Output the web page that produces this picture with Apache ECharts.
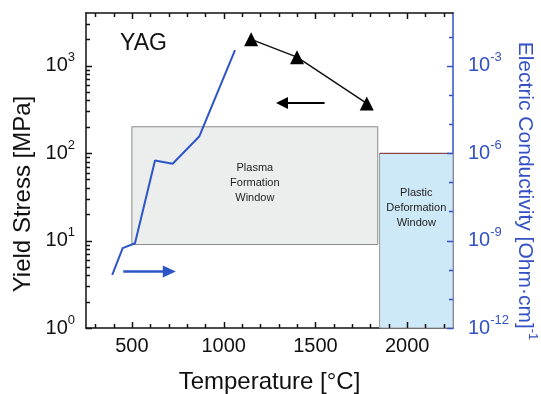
<!DOCTYPE html>
<html>
<head>
<meta charset="utf-8">
<script src="https://cdn.jsdelivr.net/npm/echarts@6/dist/echarts.min.js"></script>
<style>
  html, body { margin: 0; padding: 0; background: #fff; }
  #chart { width: 541px; height: 394px; }
</style>
</head>
<body>
<div id="chart"></div>
<script>
// yield stress [MPa]
const stressTemps = [1150, 1400, 1780]
const stressValues = [2000, 1250, 370]
// electric conductivity [Ohm·cm]^-1
const condTemps = [393, 450, 517, 626, 722, 867, 1062]
const condValues = [6.6e-11, 5.5e-10, 8.1e-10, 5.6e-7, 4.3e-7, 3.7e-6, 3.4e-3]

// ticks
const tempLabels = [500, 1000, 1500, 2000]
const tempMinor = [300, 400, 600, 700, 800, 900, 1100, 1200, 1300, 1400, 1600, 1700, 1800, 1900, 2100, 2200]
const stressLabels = [1, 10, 100, 1000]
const stressMinor = [2, 3, 4, 5, 6, 7, 8, 9, 20, 30, 40, 50, 60, 70, 80, 90,
  200, 300, 400, 500, 600, 700, 800, 900, 2000, 3000]
const condLabels = [1e-12, 1e-9, 1e-6, 1e-3]
const condMinor = [1e-11, 1e-10, 1e-8, 1e-7, 1e-5, 1e-4, 1e-2]

// windows: [tempFrom, tempTo, stressFrom, stressTo]
const plasmaWindow = [500, 1840, 9, 200]
const deformWindow = [1850, 2250, 1, 100]
// arrows: [tempFrom, tempTo, level]
const stressArrow = [1550, 1318, 375]
const condArrow = [453, 704, 8.6e-11]

const FONT = '"Liberation Sans", Arial, sans-serif'
const BLACK = '#111'
const BLUE = '#3350c4'
const LINE_BLUE = '#2d55c8'
const MAJOR = 6
const MINOR = 4

const TEMP_MIN = 250
const TEMP_MAX = 2250

const chart = echarts.init(document.getElementById('chart'))

const powLabel = v => '{b|10}{s|' + Math.round(Math.log10(v)) + '}'
const powRich = color => ({
  b: {fontSize: 20, lineHeight: 30, color: color, fontFamily: FONT},
  s: {fontSize: 13, lineHeight: 14, color: color, fontFamily: FONT, padding: [0, 0, 16, 0]}
})

const xAxes = [
  {
    type: 'value', min: TEMP_MIN, max: TEMP_MAX,
    position: 'bottom',
    name: 'Temperature [°C]',
    nameLocation: 'middle',
    nameGap: 42,
    nameMoveOverlap: false,
    nameTextStyle: {fontSize: 24, color: '#111', fontFamily: FONT},
    splitLine: {show: false},
    axisLine: {show: true, lineStyle: {color: BLACK, width: 1.5}},
    axisTick: {show: false},
    axisLabel: {customValues: tempLabels, margin: 8, fontSize: 20, color: '#111', fontFamily: FONT,
      formatter: v => String(v)}
  },
  {
    type: 'value', min: TEMP_MIN, max: TEMP_MAX,
    position: 'top',
    splitLine: {show: false},
    axisLine: {show: true, lineStyle: {color: BLACK, width: 1.5}},
    axisTick: {show: false},
    axisLabel: {show: false}
  }
]

const yAxes = [
  {
    type: 'log', min: 1, max: 4000,
    position: 'left',
    name: 'Yield Stress [MPa]',
    nameLocation: 'middle',
    nameGap: 51,
    nameMoveOverlap: false,
    nameTextStyle: {fontSize: 24, color: '#111', fontFamily: FONT, padding: [0, 47, 0, 0]},
    splitLine: {show: false},
    axisLine: {show: true, lineStyle: {color: BLACK, width: 1.5}},
    axisTick: {show: false},
    axisLabel: {customValues: stressLabels, margin: 11, formatter: powLabel, rich: powRich('#111')}
  },
  {
    type: 'log', min: 1e-12, max: 6.4e-2,
    position: 'right',
    name: '{m|Electric Conductivity [Ohm·cm]}{s|-1}',
    nameLocation: 'middle',
    nameRotate: -90,
    nameGap: 57,
    nameMoveOverlap: false,
    nameTextStyle: {
      fontSize: 21, color: BLUE, fontFamily: FONT, padding: [0, 0, 0, 41],
      rich: {
        m: {fontSize: 21, lineHeight: 30, color: BLUE, fontFamily: FONT},
        s: {fontSize: 13, lineHeight: 14, color: BLUE, fontFamily: FONT, padding: [0, 0, 16, 0]}
      }
    },
    splitLine: {show: false},
    axisLine: {show: true, lineStyle: {color: BLUE, width: 1.5}},
    axisTick: {show: false},
    axisLabel: {customValues: condLabels, margin: 15, formatter: powLabel, rich: powRich(BLUE)}
  }
]

// 刻度线: custom series, positioned through the axes
const xTickSeries = {
  type: 'custom',
  xAxisIndex: 0,
  yAxisIndex: 0,
  silent: true,
  clip: false,
  z: 6,
  encode: {x: 0, y: 1},
  data: tempLabels.map(v => [v, 1, MAJOR]).concat(tempMinor.map(v => [v, 1, MINOR])),
  renderItem: (params, api) => {
    const cs = params.coordSys
    const x = Math.round(api.coord([api.value(0), api.value(1)])[0]) + 0.5
    const len = api.value(2)
    const bottom = cs.y + cs.height
    const style = {stroke: BLACK, lineWidth: 1.5}
    return {
      type: 'group',
      children: [
        {type: 'line', shape: {x1: x, y1: bottom, x2: x, y2: bottom - len}, style: style},
        {type: 'line', shape: {x1: x, y1: cs.y, x2: x, y2: cs.y + len}, style: style}
      ]
    }
  }
}

const yTickSeries = (yAxisIndex, labels, minor, side, color) => ({
  type: 'custom',
  xAxisIndex: 0,
  yAxisIndex: yAxisIndex,
  silent: true,
  clip: false,
  z: 6,
  encode: {x: 0, y: 1},
  data: labels.map(v => [TEMP_MIN, v, MAJOR]).concat(minor.map(v => [TEMP_MIN, v, MINOR])),
  renderItem: (params, api) => {
    const cs = params.coordSys
    const y = Math.round(api.coord([api.value(0), api.value(1)])[1]) + 0.5
    const len = api.value(2)
    const x0 = side === 'left' ? cs.x : cs.x + cs.width
    const x1 = side === 'left' ? x0 + len : x0 - len
    return {
      type: 'line',
      shape: {x1: x0, y1: y, x2: x1, y2: y},
      style: {stroke: color, lineWidth: 1.5}
    }
  }
})

const windowLabel = {
  show: true,
  color: '#222',
  fontSize: 11,
  lineHeight: 15,
  fontFamily: FONT
}

const options = {
  animation: false,
  textStyle: {fontFamily: FONT},
  title: {
    text: 'YAG',
    left: 115,
    top: 27,
    textStyle: {fontSize: 23, fontWeight: 'normal', color: '#111', fontFamily: FONT}
  },
  grid: {left: 86, right: 88, top: 13, bottom: 66, outerBoundsMode: 'none'},
  xAxis: xAxes,
  yAxis: yAxes,
  series: [
    // 窗口区域
    {
      type: 'line',
      xAxisIndex: 0,
      yAxisIndex: 0,
      data: [],
      silent: true,
      markArea: {
        silent: true,
        data: [
          [
            {
              coord: [plasmaWindow[0], plasmaWindow[2]],
              itemStyle: {color: '#eceeee', borderColor: '#8a8a8a', borderWidth: 1},
              label: Object.assign({}, windowLabel, {position: 'inside', offset: [0, -3]}),
              name: 'Plasma\nFormation\nWindow'
            },
            {coord: [plasmaWindow[1], plasmaWindow[3]]}
          ],
          [
            {
              coord: [deformWindow[0], deformWindow[2]],
              itemStyle: {color: '#cde8f6', borderColor: '#999', borderWidth: 1},
              label: Object.assign({}, windowLabel, {position: 'insideTop', distance: 33}),
              name: 'Plastic\nDeformation\nWindow'
            },
            {coord: [deformWindow[1], deformWindow[3]]}
          ]
        ]
      },
      markLine: {
        silent: true,
        symbol: ['none', 'none'],
        label: {show: false},
        lineStyle: {color: '#9a4040', width: 1, type: 'solid'},
        data: [
          [{coord: [deformWindow[0], deformWindow[3]]}, {coord: [deformWindow[1], deformWindow[3]]}]
        ]
      }
    },
    // 屈服强度
    {
      name: 'Yield Stress',
      type: 'line',
      xAxisIndex: 0,
      yAxisIndex: 0,
      data: stressTemps.map((t, i) => [t, stressValues[i]]),
      symbol: 'triangle',
      symbolSize: 14,
      itemStyle: {color: '#000'},
      lineStyle: {color: '#111', width: 1.5},
      z: 5,
      markLine: {
        silent: true,
        symbol: ['none', 'triangle'],
        symbolSize: [12, 12],
        label: {show: false},
        lineStyle: {color: '#000', width: 2, type: 'solid'},
        data: [
          [{coord: [stressArrow[0], stressArrow[2]]}, {coord: [stressArrow[1], stressArrow[2]]}]
        ]
      }
    },
    // 电导率
    {
      name: 'Electric Conductivity',
      type: 'line',
      xAxisIndex: 0,
      yAxisIndex: 1,
      data: condTemps.map((t, i) => [t, condValues[i]]),
      showSymbol: false,
      lineStyle: {color: LINE_BLUE, width: 2},
      z: 4,
      markLine: {
        silent: true,
        symbol: ['none', 'triangle'],
        symbolSize: [12, 13],
        label: {show: false},
        lineStyle: {color: LINE_BLUE, width: 2.5, type: 'solid'},
        data: [
          [{coord: [condArrow[0], condArrow[2]]}, {coord: [condArrow[1], condArrow[2]]}]
        ]
      }
    },
    xTickSeries,
    yTickSeries(0, stressLabels, stressMinor, 'left', BLACK),
    yTickSeries(1, condLabels, condMinor, 'right', BLUE)
  ]
}

chart.setOption(options)
</script>
</body>
</html>
